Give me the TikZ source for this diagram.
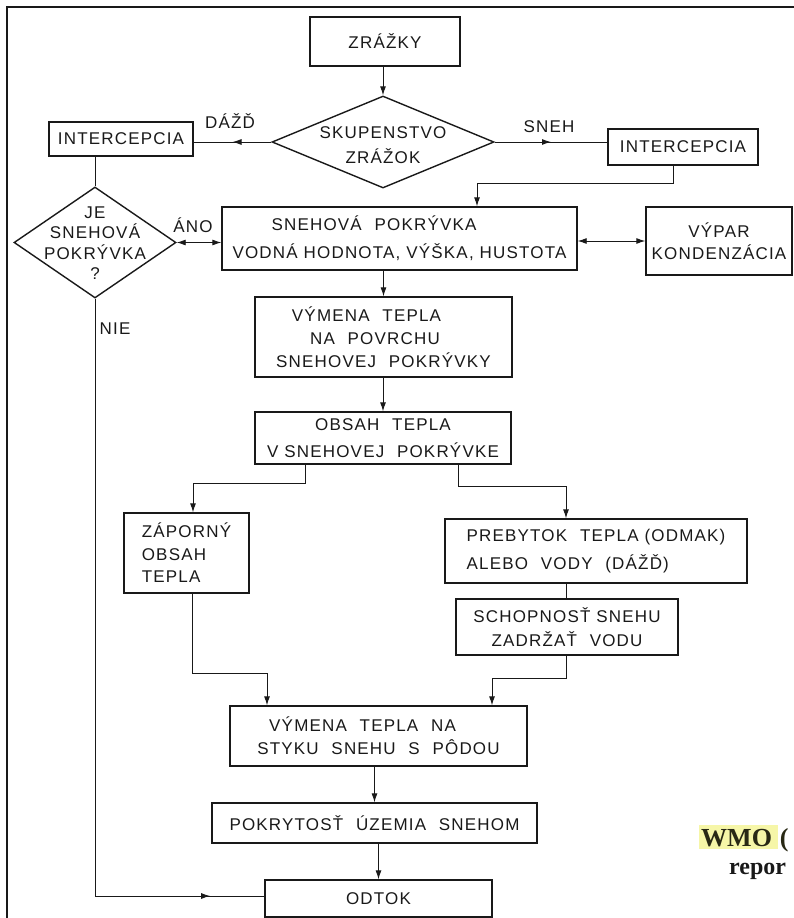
\documentclass[tikz,border=0pt]{standalone}
\usepackage{fontspec}
\setmainfont{Liberation Sans}[LetterSpace=7]
\newfontfamily\wmofont{Liberation Serif}
\usetikzlibrary{shapes.geometric,arrows.meta,decorations.markings}
\newcommand\lbl[1]{\fontsize{17}{#1}\selectfont}
\newcommand\wsp{\hspace{0.75em}}
\definecolor{hilite}{RGB}{246,246,168}
\definecolor{inkc}{RGB}{25,25,25}
\tikzset{
  box/.style={draw=inkc, line width=1.4pt, rectangle, inner sep=1pt, align=center, text=inkc},
  dia/.style={draw=inkc, line width=1.4pt, diamond, inner sep=0pt},
  txt/.style={inner sep=0pt, align=center, text=inkc},
  conn/.style={draw=inkc, line width=0.9pt},
  arr/.style={conn, -{Latex[length=9pt,width=6pt]}},
  dbl/.style={conn, {Latex[length=9pt,width=6pt]}-{Latex[length=9pt,width=6pt]}},
  midarrow/.style={conn, postaction={decorate}, decoration={markings, mark=at position #1 with {\arrow{Latex[length=9pt,width=6pt]}}}},
  midarrow/.default=0.5
}
\begin{document}
\begin{tikzpicture}[x=1pt,y=-1pt]
\useasboundingbox (0,0) rectangle (794,918);
\clip (0,0) rectangle (794,918);
% frame
\draw[line width=2.6pt, inkc] (7,930) -- (7,7) -- (800,7);

% nodes
\node[box, minimum width=150pt, minimum height=49pt, font=\lbl{24}] (zr) at (385,41.5) {ZRÁŽKY};
\node[dia, minimum width=222pt, minimum height=92pt] (d1) at (383,142) {};
\node[txt, font=\lbl{25}] (d1t) at (383,145) {SKUPENSTVO\\ZRÁŽOK};
\node[box, minimum width=144pt, minimum height=34pt, font=\lbl{24}] (il) at (121,139) {INTERCEPCIA};
\node[box, minimum width=150pt, minimum height=36pt, font=\lbl{24}] (ir) at (683,147) {INTERCEPCIA};
\node[dia, minimum width=162pt, minimum height=111pt] (d2) at (95,242.5) {};
\node[txt, font=\lbl{20.5}] (d2t) at (95,243) {JE\\SNEHOVÁ\\POKRÝVKA\\?};
\node[box, minimum width=355pt, minimum height=63pt, font=\lbl{28}] (sp) at (399.5,238.5) {SNEHOVÁ\wsp POKRÝVKA\hspace{3em}\mbox{}\\VODNÁ HODNOTA, VÝŠKA, HUSTOTA};
\node[box, minimum width=146pt, minimum height=68pt, font=\lbl{22}] (vy) at (719,241) {VÝPAR\\KONDENZÁCIA};
\node[box, minimum width=257pt, minimum height=80pt, font=\lbl{23}] (vm1) at (383.5,337) {VÝMENA\wsp TEPLA\hspace{2em}\mbox{}\\NA\wsp POVRCHU\hspace{1em}\mbox{}\\SNEHOVEJ\wsp POKRÝVKY};
\node[box, minimum width=256pt, minimum height=52pt, font=\lbl{27}] (ob) at (383,438) {OBSAH\wsp TEPLA\\V SNEHOVEJ\wsp POKRÝVKE};
\node[box, minimum width=125pt, minimum height=80pt, font=\lbl{22.5}, align=left] (za) at (186.5,553) {ZÁPORNÝ\\OBSAH\\TEPLA};
\node[box, minimum width=302pt, minimum height=64pt, font=\lbl{28}, align=left] (pr) at (596,551) {PREBYTOK\wsp TEPLA (ODMAK)\\ALEBO\wsp VODY\wsp (DÁŽĎ)};
\node[box, minimum width=222pt, minimum height=56pt, font=\lbl{24}] (sc) at (567,627) {SCHOPNOSŤ SNEHU\\ZADRŽAŤ\wsp VODU};
\node[box, minimum width=297pt, minimum height=60pt, font=\lbl{23}, align=left] (vm2) at (378.5,736) {\hspace{0.7em}VÝMENA\wsp TEPLA\wsp NA\\STYKU\wsp SNEHU\wsp S\wsp PÔDOU};
\node[box, minimum width=325pt, minimum height=40pt, font=\lbl{24}] (po) at (374.5,823) {POKRYTOSŤ\wsp ÚZEMIA\wsp SNEHOM};
\node[box, minimum width=227pt, minimum height=37pt, font=\lbl{24}] (od) at (378.5,898.5) {ODTOK};

% labels
\node[txt, font=\lbl{20}] (ldazd) at (230,121) {DÁŽĎ};
\node[txt, font=\lbl{20}] (lsneh) at (549,127) {SNEH};
\node[txt, font=\lbl{20}] (lano) at (193,225) {ÁNO};
\node[txt, font=\lbl{20}] (lnie) at (115,329) {NIE};

% helper coordinates
\coordinate (c1) at (673,183);
\coordinate (c2) at (477,183);
\coordinate (c3) at (305,483);
\coordinate (c4) at (193,483);
\coordinate (c5) at (458,486);
\coordinate (c6) at (566,486);
\coordinate (c7) at (566,678);
\coordinate (c8) at (492,678);
\coordinate (c9) at (192,673);
\coordinate (c10) at (267,673);
\coordinate (c11) at (93,896);

% connectors
\draw[arr] (zr.south -| d1.north) -- (d1.north);
\draw[midarrow] (d1.west) -- (d1.west -| il.east);
\draw[midarrow] (d1.east) -- (d1.east -| ir.west);
\draw[conn] (il.south -| d2.north) -- (d2.north);
\draw[conn] (ir.south -| c1) -- (c1) -- (c2);
\draw[arr] (c2) -- (c2 |- sp.north);
\draw[dbl] (d2.east) -- (d2.east -| sp.west);
\draw[dbl] (sp.east |- vy.west) -- (vy.west);
\draw[arr] (sp.south -| vm1.north) -- (vm1.north);
\draw[arr] (vm1.south -| ob.north) -- (ob.north);
\draw[conn] (ob.south -| c3) -- (c3) -- (c4);
\draw[arr] (c4) -- (c4 |- za.north);
\draw[conn] (ob.south -| c5) -- (c5) -- (c6);
\draw[arr] (c6) -- (c6 |- pr.north);
\draw[conn] (pr.south -| c6) -- (sc.north -| c6);
\draw[conn] (sc.south -| c7) -- (c7) -- (c8);
\draw[arr] (c8) -- (c8 |- vm2.north);
\draw[conn] (za.south -| c9) -- (c9) -- (c10);
\draw[arr] (c10) -- (c10 |- vm2.north);
\draw[arr] (vm2.south -| po.north) -- (po.north);
\draw[arr] (po.south -| od.north) -- (od.north);
\draw[conn] (d2.south) -- (d2.south |- c11);
\draw[midarrow=0.68] (d2.south |- c11) -- (od.west |- c11);

% WMO caption fragment
\fill[hilite] (699,825) rectangle (778,849);
\node[inner sep=0pt, anchor=base west, font=\wmofont\bfseries\fontsize{26}{30}\selectfont, text={rgb,255:red,40;green,40;blue,20}] (wmo) at (701,846) {WMO\hspace{0.3em}(};
\node[inner sep=0pt, anchor=base west, font=\wmofont\bfseries\fontsize{24}{28}\selectfont, text=inkc] (repor) at (729,874) {repor};
\end{tikzpicture}
\end{document}
